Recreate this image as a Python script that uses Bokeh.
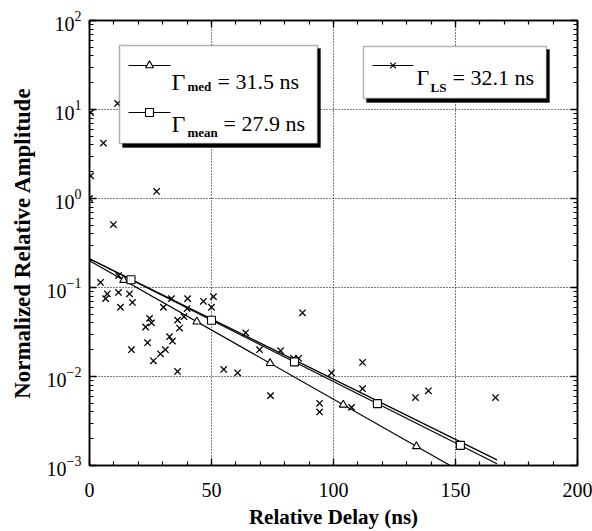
import numpy as np
from bokeh.plotting import figure
from bokeh.models import (LinearAxis, LogAxis, SingleIntervalTicker, LogTicker,
                          BoxAnnotation, Label, CustomJSTickFormatter)
from bokeh.embed import file_html
from bokeh.resources import INLINE

# Measured multipath components: relative delay (ns) and normalized amplitude
delay = [0.0, 0.5, 0.5, 5.7, 11.5, 27.5, 9.8, 4.5, 7.3, 6.6, 11.9, 12.7, 11.9,
         16.4, 17.6, 17.2, 24.6, 25.4, 23.0, 23.8, 26.2, 29.1, 31.1, 32.8,
         34.0, 36.1, 36.9, 33.6, 30.3, 36.1, 40.2, 38.7, 46.7, 50.8, 50.0,
         40.0, 55.0, 60.7, 64.0, 69.7, 78.3, 74.2, 87.3, 83.6, 85.7, 99.2,
         111.9, 111.9, 94.3, 94.3, 107.4, 133.6, 138.9, 166.4]
amplitude = [1.0, 1.8, 9.2, 4.2, 11.7, 1.2, 0.51, 0.114, 0.085, 0.075, 0.088,
             0.060, 0.136, 0.085, 0.068, 0.020, 0.045, 0.040, 0.036, 0.024,
             0.015, 0.018, 0.020, 0.028, 0.025, 0.043, 0.035, 0.075, 0.060,
             0.0114, 0.075, 0.047, 0.070, 0.079, 0.060, 0.058, 0.012, 0.011,
             0.031, 0.020, 0.0195, 0.0061, 0.052, 0.016, 0.016, 0.011, 0.0144,
             0.0073, 0.0050, 0.0040, 0.0045, 0.0058, 0.0069, 0.0058]

# Exponential decay fits  A * exp(-t / gamma)
fit_span = [0.0, 167.0]
gamma_triangle = 27.9
gamma_square = 31.5
gamma_ls = 32.1
amp0_triangle = 0.20
amp0_square = 0.21
amp0_ls = 0.21
triangle_marks = [14, 44, 74, 104, 134]
square_marks = [17, 50, 84, 118, 152]

legend_text = [("\u0393", "med", "= 31.5 ns"),
               ("\u0393", "mean", "= 27.9 ns"),
               ("\u0393", "LS", "= 32.1 ns")]
x_title = "Relative Delay (ns)"
y_title = "Normalized Relative Amplitude"

SERIF = "Liberation Serif"

p = figure(width=592, height=531, x_range=(0, 200), y_range=(1e-3, 1e2),
           y_axis_type="log", output_backend="svg", toolbar_location=None,
           min_border_left=89, min_border_right=15, min_border_top=20,
           min_border_bottom=66, background_fill_color="white",
           border_fill_color="white")
p.outline_line_color = "black"
p.outline_line_width = 1.5

xticker = SingleIntervalTicker(interval=50, num_minor_ticks=5)
yticker = LogTicker(num_minor_ticks=10)

def style_axis(ax):
    ax.axis_line_color = "black"
    ax.axis_line_width = 1.5
    ax.major_tick_in = 7
    ax.major_tick_out = 0
    ax.minor_tick_in = 4
    ax.minor_tick_out = 0
    ax.major_tick_line_color = "black"
    ax.minor_tick_line_color = "black"
    ax.major_tick_line_width = 1.3
    ax.minor_tick_line_width = 1.2
    ax.major_label_text_font = SERIF
    ax.major_label_text_font_size = "20px"
    ax.major_label_text_color = "black"
    ax.axis_label_text_font = SERIF
    ax.axis_label_text_font_style = "bold"
    ax.axis_label_text_font_size = "21px"
    ax.axis_label_text_color = "black"

xa = p.xaxis[0]
xa.ticker = xticker
xa.axis_label = x_title
style_axis(xa)
xa.major_label_standoff = 17
xa.axis_label_standoff = 5

ya = p.yaxis[0]
ya.ticker = yticker
ya.axis_label = y_title
style_axis(ya)
ya.axis_label_text_font_size = "23px"
ya.major_label_standoff = 8
ya.axis_label_standoff = 9

# tick-only mirror axes on the top and right edges
blank = CustomJSTickFormatter(code="return ''")
top_ax = LinearAxis(ticker=xticker, formatter=blank)
style_axis(top_ax)
top_ax.major_label_standoff = 0
p.add_layout(top_ax, "above")
right_ax = LogAxis(ticker=yticker, formatter=blank)
style_axis(right_ax)
right_ax.major_label_standoff = 0
p.add_layout(right_ax, "right")

for g in (p.xgrid[0], p.ygrid[0]):
    g.grid_line_color = "black"
    g.grid_line_dash = "1 2"
    g.grid_line_width = 1.1
p.xgrid[0].ticker = xticker
p.ygrid[0].ticker = yticker

# data points
p.scatter(delay, amplitude, marker="x", size=9, line_color="black",
          line_width=1.3)

# fitted decay lines
def fit(a0, gamma, t):
    t = np.asarray(t, dtype=float)
    return a0 * np.exp(-t / gamma)

p.line(fit_span, fit(amp0_triangle, gamma_triangle, fit_span),
       line_color="black", line_width=1.2)
p.line(fit_span, fit(amp0_square, gamma_square, fit_span),
       line_color="black", line_width=1.2)
p.line(fit_span, fit(amp0_ls, gamma_ls, fit_span),
       line_color="black", line_width=1.2)
p.scatter(triangle_marks, fit(amp0_triangle, gamma_triangle, triangle_marks),
          marker="triangle", size=8, fill_color="white", line_color="black",
          line_width=1.1)
p.scatter(square_marks, fit(amp0_square, gamma_square, square_marks),
          marker="square", size=8, fill_color="white", line_color="black",
          line_width=1.1)

# ---- legend boxes placed by canvas pixel position ----
FX0, FY_DEC0, PX_PER_NS, PX_PER_DEC = 89.0, 198.0, 2.44, 89.0

def dx(px):
    return (px - FX0) / PX_PER_NS

def dy(py):
    return 10 ** ((FY_DEC0 - py) / PX_PER_DEC)

def legend_box(l, t, r, b):
    p.add_layout(BoxAnnotation(left=dx(l + 3), right=dx(r + 3), top=dy(t + 3),
                               bottom=dy(b + 4), fill_color="black",
                               fill_alpha=1, line_color="black"))
    p.add_layout(BoxAnnotation(left=dx(l), right=dx(r), top=dy(t),
                               bottom=dy(b), fill_color="white", fill_alpha=1,
                               line_color="black", line_width=1.5))

def legend_entry(x0, x1, ly, marker, texts, gx, sx, ex, base, sub_base, gsize):
    r = p.line([dx(x0), dx(x1)], [dy(ly), dy(ly)], line_color="black",
               line_width=1.2)
    r.level = "overlay"
    m = p.scatter([dx((x0 + x1) / 2)], [dy(ly)], marker=marker, size=8,
                  fill_color="white", line_color="black", line_width=1.1)
    m.level = "overlay"
    g, s, e = texts
    p.add_layout(Label(x=dx(gx), y=dy(base), text=g, text_font=SERIF,
                       text_font_size=gsize, text_baseline="alphabetic",
                       text_color="black", level="overlay"))
    p.add_layout(Label(x=dx(sx), y=dy(sub_base), text=s, text_font=SERIF,
                       text_font_size="13px", text_font_style="bold",
                       text_baseline="alphabetic", text_color="black",
                       level="overlay"))
    p.add_layout(Label(x=dx(ex), y=dy(base), text=e, text_font=SERIF,
                       text_font_size="22px", text_baseline="alphabetic",
                       text_color="black", level="overlay"))

legend_box(119, 45, 317, 143)
legend_box(363, 46, 546, 98)
legend_entry(128, 170, 65, "triangle", legend_text[0], 171, 187, 217, 81, 86, "24px")
legend_entry(128, 170, 112, "square", legend_text[1], 171, 187, 223, 123, 132, "24px")
legend_entry(372, 413, 65, "x", legend_text[2], 416, 430, 452, 77, 87, "22px")

open("out.html", "w").write(file_html(p, INLINE))
